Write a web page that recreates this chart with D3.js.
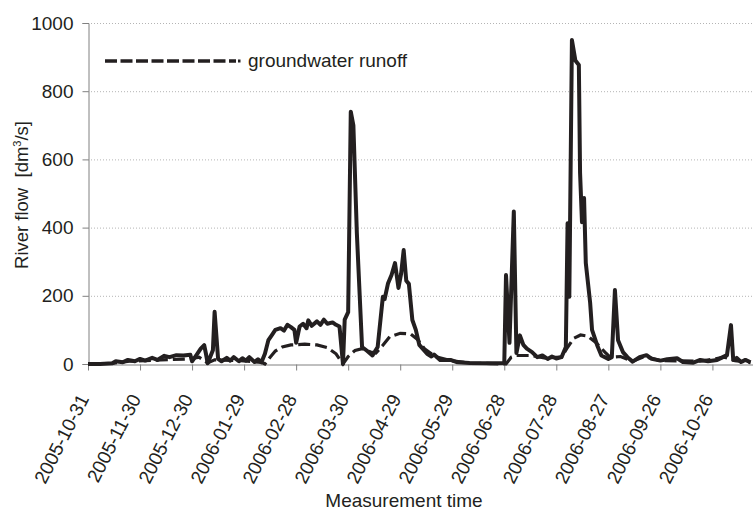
<!DOCTYPE html>
<html>
<head>
<meta charset="utf-8">
<script src="https://cdn.jsdelivr.net/npm/d3@7"></script>
<style>
  body { margin: 0; background: #fff; }
  text { font-family: "Liberation Sans", Arial, sans-serif; fill: #231f20; }
</style>
</head>
<body>
<div id="chart"></div>
<script>
// days since 2005-10-31 and river flow [dm3/s]
var flowDays = [0, 7, 14, 16, 20, 23, 27, 30, 33, 37, 40, 44, 47, 51, 55, 59, 60, 63, 65, 67, 68, 69, 72, 73, 75, 77, 80, 82, 84, 87, 89, 91, 93, 96, 98, 100,
  102, 104, 106, 108, 111, 113, 115, 117, 119, 120, 122, 124, 126, 127, 129, 132, 134, 136, 138, 141, 143, 145, 147,
  148, 150, 151.5, 153, 155, 158, 161, 164, 167, 170, 171, 173, 175, 177, 179, 180.5, 182, 183.5, 185, 187, 189, 191, 195.5, 198, 199.5, 203, 209, 213, 220, 232, 240,
  241, 243, 245.5, 247, 249, 251, 253, 256, 259, 262, 265, 267.5, 270, 273, 275.5, 276.5, 277.5, 279, 281, 283, 283.7, 284.8, 286, 287, 289.5, 290.6, 293.5, 296, 300, 302,
  303.8, 305.6, 308.4, 311, 314, 318, 322, 325, 330, 334, 339.6, 343, 349, 353, 357.5, 362.7, 368.4, 370.7, 372, 374, 376.5, 379, 382];
var flowValues = [0, 0, 2, 8, 5, 12, 8, 15, 10, 18, 12, 24, 20, 26, 25, 27, 8, 30, 45, 55, 30, 2, 40, 153, 15, 8, 18, 10, 20, 8, 17, 10, 20, 6, 14, 5,
  30, 70, 85, 100, 105, 98, 115, 108, 100, 62, 110, 118, 105, 128, 112, 125, 115, 130, 118, 122, 115, 110, 0,
  130, 152, 740, 700, 384, 50, 38, 25, 50, 197, 190, 237, 261, 296, 223, 264, 334, 244, 235, 129, 100, 56, 30, 22, 28, 12, 12, 5, 3, 2, 3,
  261, 62, 447, 32, 84, 56, 45, 35, 20, 25, 15, 22, 16, 20, 50, 413, 197, 950, 890, 877, 560, 416, 487, 296, 180, 100, 56, 25, 15, 20,
  217, 70, 35, 20, 7, 20, 26, 15, 10, 14, 17, 6, 4, 12, 8, 12, 26, 114, 12, 18, 6, 12, 5];

// groundwater runoff [dm3/s]
var baseDays = [0, 14, 24, 42, 59, 64, 69, 73, 88, 100, 102, 105, 108, 112, 117, 125, 132, 138, 143, 147,
  150, 154, 158, 163, 166, 170, 174, 180, 186, 190, 194, 200, 209, 220, 240,
  241, 244, 247, 255, 263, 273, 276, 280, 284, 288, 293, 298, 301, 307, 314, 321, 330, 353, 367, 373, 382];
var baseValues = [0, 2, 8, 12, 15, 20, 3, 12, 10, 5, 0, 20, 38, 50, 56, 58, 56, 48, 30, 0,
  22, 40, 45, 35, 32, 55, 80, 90, 88, 72, 45, 22, 10, 3, 0,
  0, 20, 25, 25, 18, 20, 45, 75, 85, 82, 62, 35, 20, 22, 8, 22, 10, 8, 20, 10, 4];

var yTicks = [0, 200, 400, 600, 800, 1000];
var xTickLabels = ["2005-10-31", "2005-11-30", "2005-12-30", "2006-01-29", "2006-02-28", "2006-03-30", "2006-04-29",
  "2006-05-29", "2006-06-28", "2006-07-28", "2006-08-27", "2006-09-26", "2006-10-26"];

var width = 753, height = 510;
var parse = d3.timeParse("%Y-%m-%d");
var fmt = d3.timeFormat("%Y-%m-%d");
var start = parse("2005-10-31");
function dayDate(d) { return new Date(start.getTime() + d * 86400000); }

var flow = flowDays.map(function(d, i) { return {date: dayDate(d), value: flowValues[i]}; });
var base = baseDays.map(function(d, i) { return {date: dayDate(d), value: baseValues[i]}; });

var xScale = d3.scaleTime().domain([start, dayDate(383.4)]).range([88, 753]);
var yScale = d3.scaleLinear().domain([0, 1000]).range([364, 23]);

var svg = d3.select("#chart").append("svg")
  .attr("width", width)
  .attr("height", height);

svg.append("rect").attr("width", width).attr("height", height).style("fill", "#fff");

// gridlines
svg.append("g").selectAll("line")
  .data(yTicks.slice(1))
  .enter().append("line")
    .attr("x1", 88).attr("x2", 753)
    .attr("y1", function(d) { return yScale(d) + 0.5; })
    .attr("y2", function(d) { return yScale(d) + 0.5; })
    .style("stroke", "#b4b4b4")
    .style("stroke-width", "1px")
    .style("stroke-dasharray", "1,2");

var y_axis = d3.axisLeft(yScale).tickValues(yTicks).tickFormat(d3.format("d")).tickSize(6).tickPadding(9);
var yG = svg.append("g")
  .attr("transform", "translate(88.5,0)")
  .call(y_axis);
yG.select(".domain").style("stroke", "#808080");
yG.selectAll(".tick line").style("stroke", "#808080");
yG.selectAll("text").style("font-size", "19px").style("fill", "#231f20")
  .attr("font-family", null);

var x_axis = d3.axisBottom(xScale).tickValues(xTickLabels.map(parse)).tickFormat(fmt).tickSize(6).tickSizeOuter(0);
var xG = svg.append("g")
  .attr("transform", "translate(0,364.5)")
  .call(x_axis);
xG.select(".domain").style("stroke", "#808080");
xG.selectAll(".tick line").style("stroke", "#808080");
xG.selectAll("text")
  .attr("font-family", null)
  .style("font-size", "19px")
  .style("fill", "#231f20")
  .style("text-anchor", "end")
  .attr("y", 0).attr("dy", 0)
  .attr("transform", "translate(1,34) rotate(-63)");

// series
var lineGenerator = d3.line()
  .x(function(d) { return xScale(d.date); })
  .y(function(d) { return yScale(d.value); });

svg.append("path")
  .attr("d", lineGenerator(base))
  .style("fill", "none")
  .style("stroke", "#231f20")
  .style("stroke-width", "3.2px")
  .style("stroke-dasharray", "12,5");

svg.append("path")
  .attr("d", lineGenerator(flow))
  .style("fill", "none")
  .style("stroke", "#231f20")
  .style("stroke-width", "4px")
  .style("stroke-linejoin", "round");

// legend
svg.append("line")
  .attr("x1", 105).attr("x2", 236).attr("y1", 61).attr("y2", 61)
  .style("stroke", "#231f20")
  .style("stroke-width", "3.5px")
  .style("stroke-dasharray", "12,3.5");
svg.append("rect")
  .attr("x", 238).attr("y", 59.5).attr("width", 2.5).attr("height", 3)
  .style("fill", "#231f20");
svg.append("text")
  .attr("x", 248).attr("y", 67)
  .style("font-size", "19px")
  .text("groundwater runoff");

// axis titles
svg.append("text")
  .attr("x", 404).attr("y", 507)
  .style("font-size", "19px")
  .style("text-anchor", "middle")
  .text("Measurement time");

var yl = svg.append("text")
  .attr("transform", "translate(28,195) rotate(-90)")
  .style("font-size", "18.5px")
  .style("text-anchor", "middle")
  .style("white-space", "pre");
yl.append("tspan").text("River flow  [dm");
yl.append("tspan").attr("dy", -7).style("font-size", "11px").text("3");
yl.append("tspan").attr("dy", 7).text("/s]");
</script>
</body>
</html>
